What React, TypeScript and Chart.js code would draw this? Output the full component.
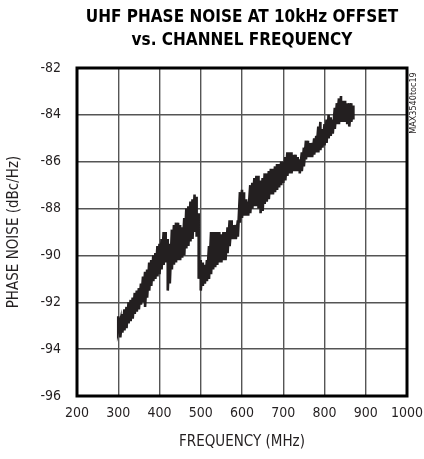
import React, { useEffect, useRef } from "react";
import { Chart, registerables } from "chart.js";

Chart.register(...registerables);

const TITLE_LINES = ["UHF PHASE NOISE AT 10kHz OFFSET", "vs. CHANNEL FREQUENCY"];
const X_TITLE = "FREQUENCY (MHz)";
const Y_TITLE = "PHASE NOISE (dBc/Hz)";
const SIDE_NOTE = "MAX3540toc19";

const FREQ_MHZ = [
  300, 305, 310, 315, 320, 325, 330, 335, 340, 345, 350, 355, 360, 365, 370, 375, 380, 385, 390, 395,
  400, 405, 410, 415, 420, 425, 430, 435, 440, 445, 450, 455, 460, 465, 470, 475, 480, 485, 490, 495,
  500, 505, 510, 515, 520, 525, 530, 535, 540, 545, 550, 555, 560, 565, 570, 575, 580, 585, 590, 595,
  600, 605, 610, 615, 620, 625, 630, 635, 640, 645, 650, 655, 660, 665, 670, 675, 680, 685, 690, 695,
  700, 705, 710, 715, 720, 725, 730, 735, 740, 745, 750, 755, 760, 765, 770, 775, 780, 785, 790, 795,
  800, 805, 810, 815, 820, 825, 830, 835, 840, 845, 850, 855, 860, 865, 870,
];

// upper swing of the noisy trace (dBc/Hz)
const NOISE_HIGH = [
  -92.6, -92.8, -92.5, -92.3, -92.2, -92.0, -91.9, -91.8, -91.6, -91.5, -91.4, -91.2, -90.9, -90.7, -90.6, -90.3, -90.2, -90.0, -89.9, -89.6,
  -89.5, -89.3, -89.0, -89.0, -89.3, -89.5, -88.9, -88.7, -88.6, -88.6, -88.7, -88.8, -88.4, -88.0, -87.9, -87.7, -87.6, -87.4, -87.5, -88.2,
  -90.2, -90.3, -90.4, -90.2, -89.6, -89.0, -89.0, -89.0, -89.0, -89.0, -89.1, -89.0, -89.0, -88.8, -88.5, -88.5, -88.7, -88.7, -88.5, -87.3,
  -87.2, -87.3, -87.6, -87.7, -87.0, -86.9, -86.7, -86.6, -86.6, -86.8, -86.7, -86.5, -86.5, -86.4, -86.3, -86.3, -86.2, -86.1, -86.1, -86.0,
  -86.0, -85.8, -85.6, -85.6, -85.6, -85.7, -85.7, -85.8, -85.9, -85.6, -85.4, -85.1, -85.1, -85.2, -85.2, -85.0, -84.9, -84.5, -84.3, -84.6,
  -84.4, -84.2, -84.0, -84.1, -84.2, -83.7, -83.5, -83.3, -83.2, -83.4, -83.4, -83.5, -83.5, -83.5, -83.6,
];

// lower swing of the noisy trace (dBc/Hz)
const NOISE_LOW = [
  -93.2, -93.5, -93.3, -93.2, -93.1, -92.9, -92.8, -92.7, -92.5, -92.4, -92.3, -92.1, -92.0, -92.2, -91.8, -91.5, -91.3, -91.1, -91.0, -90.9,
  -90.8, -90.6, -90.4, -90.3, -91.5, -91.2, -90.6, -90.4, -90.3, -90.2, -90.2, -90.1, -90.0, -89.7, -89.6, -89.4, -89.3, -89.0, -89.2, -91.0,
  -91.5, -91.3, -91.2, -91.1, -91.0, -90.8, -90.6, -90.5, -90.4, -90.3, -90.3, -90.2, -90.2, -89.9, -89.6, -89.3, -89.3, -89.3, -89.2, -88.6,
  -88.4, -88.3, -88.3, -88.3, -88.2, -88.0, -87.9, -87.9, -88.0, -88.2, -88.1, -87.8, -87.7, -87.6, -87.4, -87.4, -87.3, -87.2, -87.1, -87.0,
  -86.9, -86.8, -86.6, -86.5, -86.5, -86.4, -86.4, -86.4, -86.5, -86.4, -86.2, -85.9, -85.8, -85.8, -85.8, -85.7, -85.6, -85.6, -85.5, -85.4,
  -85.3, -85.2, -85.0, -84.9, -84.8, -84.6, -84.4, -84.4, -84.3, -84.3, -84.3, -84.4, -84.5, -84.3, -84.2,
];

const X_MIN = 200;
const X_MAX = 1000;
const X_STEP = 100;
const Y_MIN = -96;
const Y_MAX = -82;
const Y_STEP = 2;

const INK = "#231f20";
const FONT_FAMILY = '"DejaVu Sans Condensed", "Liberation Sans", sans-serif';

export default function App() {
  const canvasRef = useRef<HTMLCanvasElement | null>(null);

  useEffect(() => {
    const canvas = canvasRef.current;
    if (!canvas) return;

    const trace: { x: number; y: number }[] = [];
    FREQ_MHZ.forEach((f, i) => {
      trace.push({ x: f, y: NOISE_HIGH[i] });
      trace.push({ x: f, y: NOISE_LOW[i] });
    });

    const decorations = {
      id: "decorations",
      afterDraw(chart: any) {
        const { ctx, chartArea } = chart;
        const { left, right, top, bottom } = chartArea;
        ctx.save();
        ctx.strokeStyle = "#000";
        ctx.lineWidth = 3;
        ctx.strokeRect(left, top, right - left, bottom - top);
        ctx.fillStyle = "#000";
        ctx.textAlign = "center";
        ctx.textBaseline = "middle";
        ctx.font = `bold 17px ${FONT_FAMILY}`;
        const cx = (left + right) / 2;
        ctx.fillText(TITLE_LINES[0], cx, 18);
        ctx.fillText(TITLE_LINES[1], cx, 41);
        ctx.font = `9px ${FONT_FAMILY}`;
        ctx.fillStyle = INK;
        ctx.translate(414, 103);
        ctx.rotate(-Math.PI / 2);
        ctx.fillText(SIDE_NOTE, 0, 0);
        ctx.restore();
      },
    };

    const chart = new Chart(canvas, {
      type: "line",
      data: {
        datasets: [
          {
            data: trace,
            borderColor: INK,
            borderWidth: 2.6,
            pointRadius: 0,
            tension: 0,
            fill: false,
          },
        ],
      },
      options: {
        animation: false,
        responsive: false,
        maintainAspectRatio: false,
        layout: { padding: { left: 0, top: 68, right: 17, bottom: 0 } },
        plugins: {
          legend: { display: false },
          tooltip: { enabled: false },
          title: { display: false },
        },
        scales: {
          x: {
            type: "linear",
            min: X_MIN,
            max: X_MAX,
            afterFit: (scale: any) => {
              scale.height = 63;
              scale.paddingLeft = 0;
              scale.paddingRight = 0;
            },
            ticks: {
              stepSize: X_STEP,
              autoSkip: false,
              color: INK,
              padding: 9,
              maxRotation: 0,
              font: { family: FONT_FAMILY, size: 14 },
              callback: (v: any) => String(v),
            },
            grid: { color: "#555", lineWidth: 1.4, drawTicks: false },
            border: { display: false },
            title: {
              display: true,
              text: X_TITLE,
              color: INK,
              font: { family: FONT_FAMILY, size: 15 },
              padding: { top: 0, bottom: 8 },
            },
          },
          y: {
            type: "linear",
            min: Y_MIN,
            max: Y_MAX,
            afterFit: (scale: any) => {
              scale.width = 77;
              scale.paddingTop = 0;
              scale.paddingBottom = 0;
            },
            ticks: {
              stepSize: Y_STEP,
              autoSkip: false,
              color: INK,
              padding: 16,
              font: { family: FONT_FAMILY, size: 14 },
              callback: (v: any) => String(v),
            },
            grid: { color: "#555", lineWidth: 1.4, drawTicks: false },
            border: { display: false },
            title: {
              display: true,
              text: Y_TITLE,
              color: INK,
              font: { family: FONT_FAMILY, size: 15 },
              padding: { top: 5, bottom: 0 },
            },
          },
        },
      },
      plugins: [decorations],
    });

    return () => chart.destroy();
  }, []);

  return (
    <div style={{ position: "absolute", left: 0, top: 0, width: 424, height: 459, background: "#fff" }}>
      <canvas ref={canvasRef} width={424} height={459} />
    </div>
  );
}
